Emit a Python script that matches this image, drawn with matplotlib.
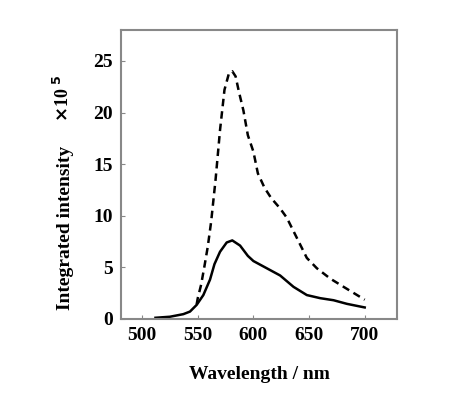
import matplotlib
matplotlib.use("Agg")
import matplotlib.pyplot as plt

# solid curve
wl_solid = [512, 525, 537, 543, 549, 555, 561, 565, 570, 576, 581, 588, 595, 600,
            612, 624, 636, 648, 660, 672, 684, 700]
int_solid = [0.1, 0.2, 0.45, 0.7, 1.35, 2.3, 3.8, 5.3, 6.5, 7.4, 7.6, 7.1, 6.1, 5.6,
             4.9, 4.2, 3.1, 2.3, 2.0, 1.8, 1.45, 1.1]

# dashed curve
wl_dash = [549, 550, 553, 556, 559, 562, 566, 570, 574, 578, 581, 584, 587, 591, 595,
           600, 604, 610, 616, 624, 630, 636, 642, 648, 657, 669, 681, 700]
int_dash = [1.4, 2.0, 3.3, 5.1, 7.0, 9.4, 13.5, 18.3, 22.2, 23.8, 24.0, 23.5, 22.0, 20.2, 17.8,
            16.2, 14.1, 12.7, 11.7, 10.7, 9.8, 8.5, 7.2, 5.9, 4.9, 3.9, 3.1, 1.85]

xticks = [500, 550, 600, 650, 700]
yticks = [0, 5, 10, 15, 20, 25]

plt.rcParams['font.family'] = ['Liberation Serif', 'DejaVu Serif']
plt.rcParams['font.weight'] = 'bold'

fig = plt.figure(figsize=(4.6, 4.0), dpi=100)
ax = fig.add_axes([0.263, 0.203, 0.600, 0.722])

ax.plot(wl_solid, int_solid, color='black', lw=1.8)
ax.plot(wl_dash, int_dash, color='black', lw=1.8, dashes=(3, 2))

ax.set_xlim(481, 729)
ax.set_ylim(0, 28)
ax.set_xticks(xticks)
ax.set_yticks(yticks)
ax.tick_params(direction='in', length=3, color='#888888', labelsize=14, pad=6)

for s in ax.spines.values():
    s.set_color('#888888')
    s.set_linewidth(1.5)

ax.set_xlabel("Wavelength / nm", fontsize=14, fontweight='bold', labelpad=16)
ax.set_ylabel("Integrated intensity", fontsize=14, fontweight='bold')
ax.yaxis.set_label_coords(-0.17, 0.315)
fig.text(0.137, 0.755, r"$\times$10$^{\ 5}$", rotation=90, fontsize=13,
         ha='center', va='center', fontweight='bold')

fig.savefig("out.png", dpi=100)
